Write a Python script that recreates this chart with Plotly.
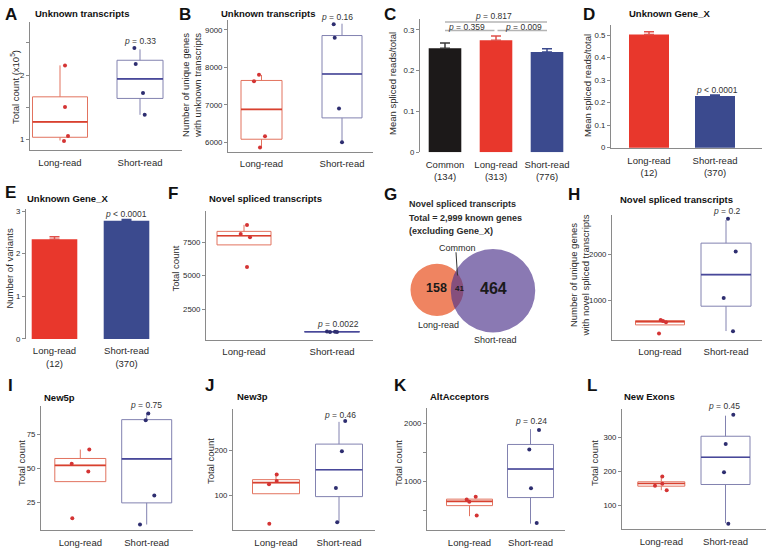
import plotly.graph_objects as go

W, H = 767, 553

# ------------------------------------------------------------------ data
groups = ["Long-read", "Short-read"]

# box stats: [lowerfence, q1, median, q3, upperfence]
A_long_box = [0.98, 1.03, 1.27, 1.66, 2.15]
A_short_box = [1.38, 1.635, 1.94, 2.23, 2.40]
A_long_pts = [2.15, 1.50, 1.05, 0.97]
A_short_pts = [2.42, 2.17, 1.72, 1.38]
A_ticks = [1, 2]
A_minor = [1.5, 2.5]

B_long_box = [5868, 6080, 6877, 7650, 7797]
B_short_box = [6000, 6650, 7824, 8850, 9166]
B_long_pts = [7800, 7630, 6158, 5860]
B_short_pts = [9150, 8790, 6903, 6000]
B_ticks = [6000, 7000, 8000, 9000]

C_cats = ["Common<br>(134)", "Long-read<br>(313)", "Short-read<br>(776)"]
C_vals = [0.255, 0.275, 0.246]
C_err = [0.013, 0.010, 0.008]
C_ticks = [0, 0.1, 0.2, 0.3]
C_ticktext = ["0", "0.1", "0.2", "0.3"]
C_pvals = ["0.817", "0.359", "0.009"]

D_cats = ["Long-read<br>(12)", "Short-read<br>(370)"]
D_vals = [0.503, 0.230]
D_err = [0.012, 0.004]
D_ticks = [0, 0.1, 0.2, 0.3, 0.4, 0.5]
D_ticktext = ["0", "0.1", "0.2", "0.3", "0.4", "0.5"]

E_cats = ["Long-read<br>(12)", "Short-read<br>(370)"]
E_vals = [2.34, 2.77]
E_err = [0.06, 0.03]
E_ticks = [0, 1, 2, 3]

F_long_box = [7300, 7300, 7990, 8312, 8800]
F_short_box = [780, 790, 805, 815, 830]
F_long_pts = [8780, 8110, 7870, 5650]
F_short_pts = [830, 800, 790, 775]
F_ticks = [2500, 5000, 7500]

G_only_long = 158
G_common = 41
G_only_short = 464

H_long_box = [460, 460, 531, 552, 570]
H_short_box = [325, 870, 1562, 2253, 2760]
H_long_pts = [570, 545, 518, 272]
H_short_pts = [2790, 2071, 1050, 320]
H_ticks = [1000, 2000]

I_long_box = [40.2, 40.2, 52.2, 57.3, 63.9]
I_short_box = [8.5, 24.5, 57.0, 86.0, 90.8]
I_long_pts = [64, 53.4, 47.6, 13.2]
I_short_pts = [90.5, 85.6, 30, 8.5]
I_ticks = [25, 50, 75]

J_long_box = [104.4, 104.4, 129, 135.7, 147]
J_short_box = [41, 98, 157.8, 214.6, 264]
J_long_pts = [147, 132.6, 125.4, 37.5]
J_short_pts = [266, 198.5, 117, 41]
J_ticks = [100, 200]

K_long_box = [403, 585, 658, 697, 697]
K_short_box = [274, 724, 1215, 1639, 1903]
K_long_pts = [736, 692, 652, 414]
K_short_pts = [1890, 1554, 886, 286]
K_ticks = [1000, 2000]
K_minor = [500, 1500]

L_long_box = [144, 156, 164, 169, 185]
L_short_box = [46, 161, 241.8, 304.4, 365.5]
L_long_pts = [185, 163, 157, 144]
L_short_pts = [368, 281.6, 197.7, 44.6]
L_ticks = [100, 200, 300]

# ------------------------------------------------------------------ style
FONT = "Liberation Sans, Arial, sans-serif"
AX = "#8a8a8a"
TXT = "#2a2a2a"
RED_BOX, RED_MED, RED_PT = "#e2735f", "#d8402f", "#d43434"
BLU_BOX, BLU_MED, BLU_PT = "#8282b0", "#48489a", "#2e2e70"
RED_BAR, BLU_BAR, BLK_BAR = "#e8372c", "#3b4a8e", "#1c1919"
TICKSIZE = 7.8

fig = go.Figure()
layout = {}
annotations = []
shapes = []


def ax_names(n):
    return ("xaxis" if n == 1 else f"xaxis{n}",
            "yaxis" if n == 1 else f"yaxis{n}",
            "x" if n == 1 else f"x{n}",
            "y" if n == 1 else f"y{n}")


def P(px, py):
    return px / W, 1 - py / H


def ann(text, px, py, size, bold=False, xanchor="left", angle=0, color=TXT):
    x, y = P(px, py)
    if bold:
        text = f"<b>{text}</b>"
    annotations.append(dict(text=text, x=x, y=y, xref="paper", yref="paper",
                            xanchor=xanchor if angle == 0 else "center",
                            yanchor="middle", showarrow=False, textangle=angle,
                            font=dict(family=FONT, size=size, color=color)))


def yaxis_cfg(n, geom, yrange, tickvals, ticktext, minor=None):
    x0, x1, y0, y1 = geom[:4]
    xa, ya, xr, yr = ax_names(n)
    cfg = dict(domain=[1 - y1 / H, 1 - y0 / H], range=yrange, anchor=xr,
               tickvals=tickvals, ticktext=ticktext, showline=True,
               linecolor=AX, linewidth=1, ticks="outside", ticklen=3,
               tickcolor=AX, tickfont=dict(family=FONT, size=TICKSIZE, color=TXT),
               showgrid=False, zeroline=False)
    if minor:
        cfg["minor"] = dict(tickvals=minor, ticks="outside", ticklen=3, tickcolor=AX, showgrid=False)
    layout[ya] = cfg


def box_panel(n, geom, yrange, tickvals, boxes, pts, offsets, widths, minor=None):
    x0, x1, y0, y1, c0, c1 = geom
    unit = c1 - c0
    xa, ya, xr, yr = ax_names(n)
    layout[xa] = dict(domain=[x0 / W, x1 / W], range=[(x0 - c0) / unit, (x1 - c0) / unit],
                      anchor=yr, tickvals=[0, 1], ticktext=groups, showline=True,
                      linecolor=AX, linewidth=1, ticks="outside", ticklen=3,
                      tickcolor="rgba(0,0,0,0)", tickfont=dict(family=FONT, size=9.5, color=TXT),
                      showgrid=False, zeroline=False)
    yaxis_cfg(n, geom, yrange, tickvals, [str(t) for t in tickvals], minor)
    cols = [(RED_BOX, RED_MED, RED_PT), (BLU_BOX, BLU_MED, BLU_PT)]
    for i in range(2):
        bx = boxes[i]
        w = widths[i] / unit
        cb, cm, cp = cols[i]
        fig.add_trace(go.Box(x=[i], lowerfence=[bx[0]], q1=[bx[1]], median=[bx[2]],
                             q3=[bx[3]], upperfence=[bx[4]], width=w, whiskerwidth=0,
                             line=dict(color=cb, width=1), fillcolor="rgba(0,0,0,0)",
                             boxpoints=False, xaxis=xr, yaxis=yr, hoverinfo="skip"))
        fig.add_trace(go.Scatter(x=[i - w / 2, i + w / 2], y=[bx[2], bx[2]], mode="lines",
                                 line=dict(color=cm, width=1.6), xaxis=xr, yaxis=yr,
                                 hoverinfo="skip"))
        fig.add_trace(go.Scatter(x=[i + o / unit for o in offsets[i]], y=pts[i],
                                 mode="markers", marker=dict(color=cp, size=4),
                                 xaxis=xr, yaxis=yr, hoverinfo="skip"))


def bar_panel(n, geom, yrange, tickvals, ticktext, cats, vals, errs, colors,
              errcolors, spacing, c0, bw, xline):
    x0, x1, y0, y1 = geom
    xa, ya, xr, yr = ax_names(n)
    layout[xa] = dict(domain=[x0 / W, x1 / W], range=[(x0 - c0) / spacing, (x1 - c0) / spacing],
                      anchor=yr, tickvals=list(range(len(cats))), ticktext=cats,
                      showline=xline, linecolor=AX, linewidth=1, ticks="outside",
                      ticklen=3, tickcolor="rgba(0,0,0,0)",
                      tickfont=dict(family=FONT, size=9.5, color=TXT),
                      showgrid=False, zeroline=False)
    yaxis_cfg(n, geom, yrange, tickvals, ticktext)
    for i, v in enumerate(vals):
        fig.add_trace(go.Bar(x=[i], y=[v], width=bw / spacing, marker=dict(color=colors[i], line=dict(width=0)),
                             error_y=dict(type="data", array=[errs[i]], arrayminus=[0],
                                          symmetric=False, color=errcolors[i], thickness=1.5, width=5),
                             xaxis=xr, yaxis=yr, hoverinfo="skip"))


# ------------------------------------------------------------------ panels
box_panel(1, (30, 182, 20, 150, 60, 140), [0.83, 2.83], A_ticks,
          [A_long_box, A_short_box], [A_long_pts, A_short_pts],
          [[5, 5, 8, 4], [-5.6, -4.3, 3, 4.7]], [55, 46], minor=A_minor)
box_panel(2, (228, 373, 18, 152, 261.5, 342), [5737, 9271], B_ticks,
          [B_long_box, B_short_box], [B_long_pts, B_short_pts],
          [[-2.5, -7.5, 3.5, -1.5], [-8.3, -7.3, -3, 0]], [41, 40])
bar_panel(3, (420, 573, 17, 152.3), [0, 0.3273], C_ticks, C_ticktext, C_cats, C_vals, C_err,
          [BLK_BAR, RED_BAR, BLU_BAR], ["#3a3a3a", "#e0504a", BLU_BAR], 51, 445, 32.6, False)
bar_panel(4, (611, 762, 23, 148), [-0.002, 0.546], D_ticks, D_ticktext, D_cats, D_vals, D_err,
          [RED_BAR, BLU_BAR], ["#e0504a", BLU_BAR], 66, 649, 40, True)
bar_panel(5, (26, 165, 209.3, 341.3), [0, 3.056], E_ticks, [str(t) for t in E_ticks], E_cats,
          E_vals, E_err, [RED_BAR, BLU_BAR], ["#e0504a", BLU_BAR], 72, 54.5, 45.6, False)
box_panel(6, (206, 373, 212, 342, 244, 332), [210, 9812], F_ticks,
          [F_long_box, F_short_box], [F_long_pts, F_short_pts],
          [[3, -3.3, 6, 3], [-5, 3, -2, 5]], [54, 55])
box_panel(7, (612, 762, 216, 342, 660, 726), [136, 2864], H_ticks,
          [H_long_box, H_short_box], [H_long_pts, H_short_pts],
          [[0.7, 3, 6, -1], [2, 9.7, -2.3, 7]], [49, 50])
box_panel(8, (41, 193, 409, 535, 80.3, 146.7), [4.3, 96.2], I_ticks,
          [I_long_box, I_short_box], [I_long_pts, I_short_pts],
          [[9, -8.6, 8, -8], [1.6, -1, 7.6, -6.7]], [51, 50])
box_panel(9, (233, 375, 412, 535, 276, 339), [23.4, 293], J_ticks,
          [J_long_box, J_short_box], [J_long_pts, J_short_pts],
          [[0.7, 0.7, -7, -6.7], [6.2, 2.9, -3.1, -1.8]], [47, 47])
box_panel(10, (427, 565, 411, 535, 469.5, 530.5), [161, 2271], K_ticks,
          [K_long_box, K_short_box], [K_long_pts, K_short_pts],
          [[6.2, -2.8, -0.2, 7.2], [8.5, -1.2, 0.5, 6.2]], [46, 46], minor=K_minor)
box_panel(11, (622, 766, 412, 534, 661.3, 725.5), [28, 386], L_ticks,
          [L_long_box, L_short_box], [L_long_pts, L_short_pts],
          [[1, 1, -6.3, 5.4], [7.8, 0.2, -1.5, 2.8]], [47, 49])

# significance brackets for C
for xa0, xa1, yv in [(0, 2, 0.3196), (0, 0.97, 0.2986), (1.03, 2, 0.2986)]:
    shapes.append(dict(type="line", xref="x3", yref="y3", x0=xa0, x1=xa1, y0=yv, y1=yv,
                       line=dict(color="#b4b4b4", width=1.5)))

# ------------------------------------------------------------------ Venn (G)
vx0, vx1, vy0, vy1 = 395, 560, 238, 352
layout["xaxis12"] = dict(domain=[vx0 / W, vx1 / W], range=[vx0, vx1], visible=False, anchor="y12")
layout["yaxis12"] = dict(domain=[1 - vy1 / H, 1 - vy0 / H], range=[vy1, vy0], visible=False, anchor="x12")
k = 1.879
r_long = k * (G_only_long + G_common) ** 0.5
r_short = k * (G_only_short + G_common) ** 0.5
cl = (437, 291.5)
cs = (493, 292.5)
shapes.append(dict(type="circle", xref="x12", yref="y12", x0=cl[0] - r_long, x1=cl[0] + r_long,
                   y0=cl[1] - r_long, y1=cl[1] + r_long, fillcolor="#ef8461", line=dict(width=0)))
shapes.append(dict(type="circle", xref="x12", yref="y12", x0=cs[0] - r_short, x1=cs[0] + r_short,
                   y0=cs[1] - r_short, y1=cs[1] + r_short, fillcolor="rgb(78,52,140)",
                   opacity=0.66, line=dict(width=0)))
shapes.append(dict(type="line", xref="x12", yref="y12", x0=456, y0=253.5, x1=457.5, y1=277,
                   line=dict(color="#333", width=1)))
ann(f"<b>{G_only_long}</b>", 436, 290, 12.5, xanchor="center", color="#1a1a1a")
ann(f"<b>{G_common}</b>", 459.5, 290, 8, xanchor="center", color="#1a1a1a")
ann(f"<b>{G_only_short}</b>", 493, 290, 16, xanchor="center", color="#1a1a1a")
ann("Common", 457, 249, 9, xanchor="center")
ann("Long-read", 438, 327, 9, xanchor="center")
ann("Short-read", 495, 342, 9, xanchor="center")
ann("Novel spliced transcripts", 407, 205, 9, bold=True)
ann("Total = 2,999 known genes", 407, 219, 9, bold=True)
ann("(excluding Gene_X)", 407, 232, 9, bold=True)

# ------------------------------------------------------------------ letters / titles
for L, x, y in [("A", 3, 13), ("B", 177, 13), ("C", 382, 13), ("D", 581, 13),
                ("E", 3, 193), ("F", 166, 194), ("G", 382, 195), ("H", 566, 195),
                ("I", 6, 388), ("J", 203, 388), ("K", 392, 388), ("L", 585, 388)]:
    ann(L, x, y, 17, bold=True, color="#111")

for t, x, y in [("Unknown transcripts", 33, 12), ("Unknown transcripts", 219, 12),
                ("Unknown Gene_X", 627, 12), ("Unknown Gene_X", 25, 199),
                ("Novel spliced transcripts", 207, 199), ("Novel spliced transcripts", 618, 200),
                ("New5p", 41.5, 400.5), ("New3p", 235, 400), ("AltAcceptors", 428, 400),
                ("New Exons", 622, 400)]:
    ann(t, x, y, 9.5, bold=True, color="#111")

# y-axis titles
for t, x, y in [("Total count (x10<sup>5</sup>)", 15, 86),
                ("Number of unique genes<br>with unknown transcripts", 192, 85),
                ("Mean spliced reads/total", 393, 83),
                ("Mean spliced reads/total", 588, 85),
                ("Number of variants", 10, 270),
                ("Total count", 176, 270),
                ("Number of unique genes<br>with novel spliced transcripts", 579, 277),
                ("Total count", 21, 467), ("Total count", 210, 465),
                ("Total count", 398, 467), ("Total count", 594, 467)]:
    ann(t, x, y, 9.5, angle=-90)

# p-values
for pv, x, y in [("= 0.33", 140, 40), ("= 0.16", 337, 15), ("< 0.0001", 717, 89),
                 ("< 0.0001", 126, 215), ("= 0.0022", 338, 326), ("= 0.2", 727, 212),
                 ("= 0.75", 146, 408), ("= 0.46", 340, 418), ("= 0.24", 531, 424),
                 ("= 0.45", 724, 409), ("= " + C_pvals[0], 493, 14.5),
                 ("= " + C_pvals[1], 466, 25), ("= " + C_pvals[2], 523, 25)]:
    ann(f"<i>p</i> {pv}", x, y, 8.5, xanchor="center", color="#333")

layout.update(dict(width=W, height=H, margin=dict(l=0, r=0, t=0, b=0),
                   paper_bgcolor="white", plot_bgcolor="white", showlegend=False,
                   barmode="overlay", font=dict(family=FONT, color=TXT),
                   annotations=annotations, shapes=shapes))
fig.update_layout(**layout)
fig.write_html("out.html")
